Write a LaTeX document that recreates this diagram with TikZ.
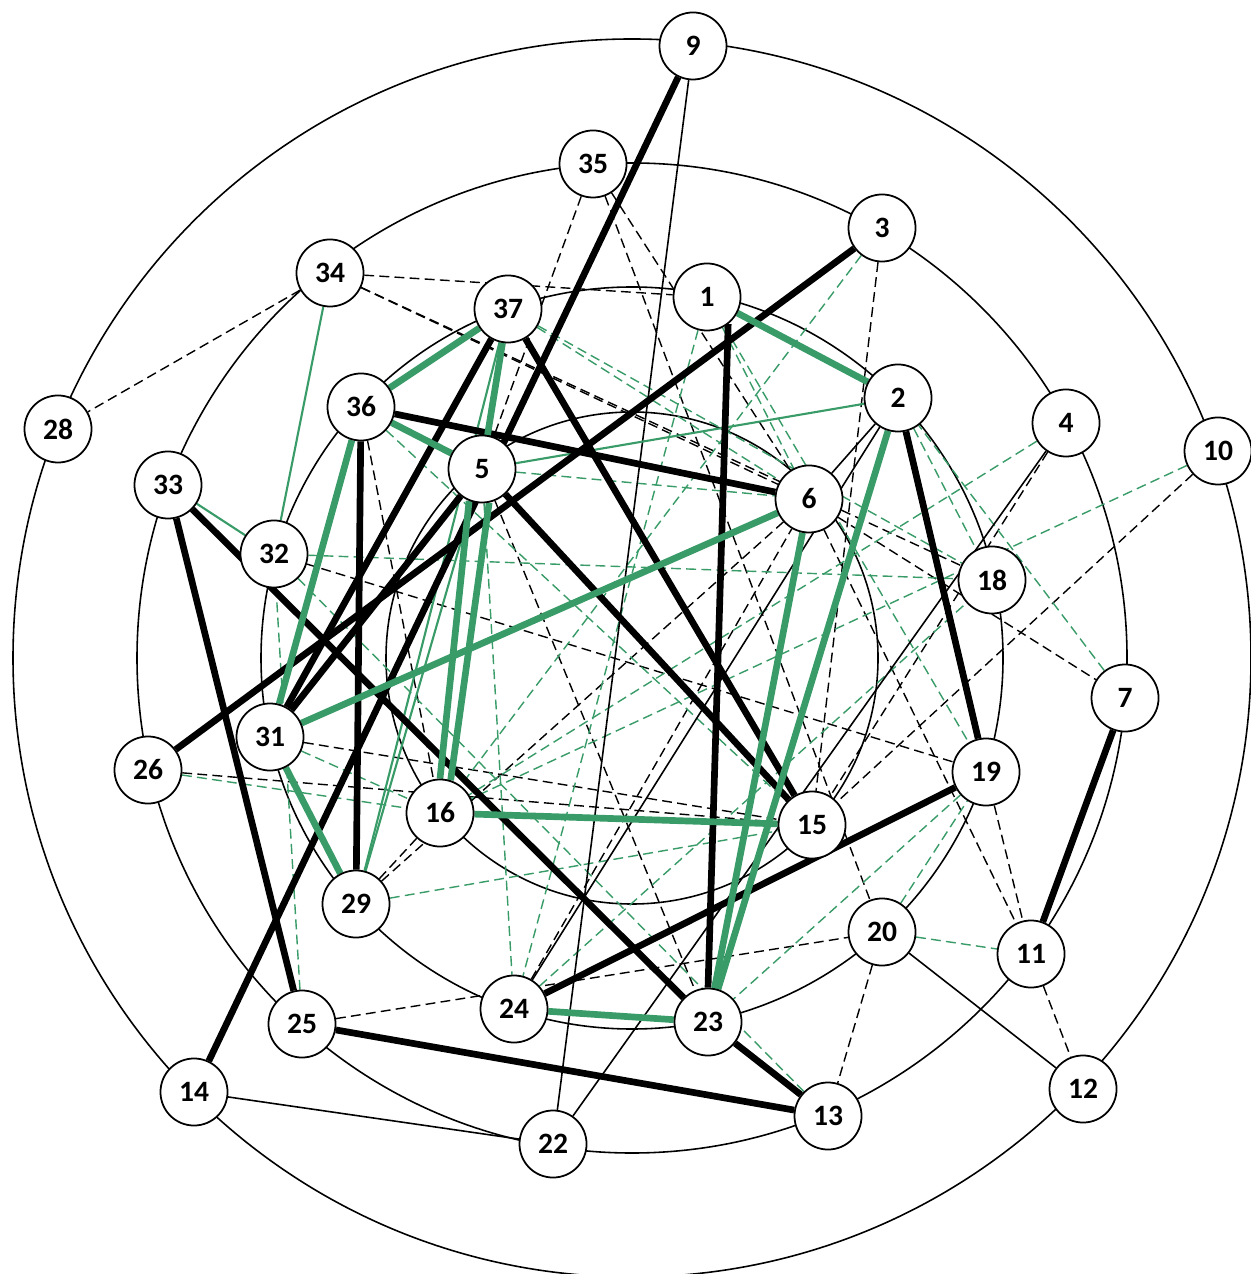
\documentclass[tikz,border=0pt]{standalone}
\usepackage{fontspec}
\setmainfont{Carlito}
\usetikzlibrary{backgrounds}
\definecolor{netgreen}{RGB}{56,155,104}

\begin{document}
\begin{tikzpicture}[x=0.01cm,y=-0.01cm,
  vtx/.style={circle,draw,fill=white,line width=0.5pt,minimum size=0.67cm,inner sep=0pt,
    font=\fontsize{8.4}{9}\selectfont\bfseries},
  ring/.style={line width=0.45pt},
  thin/.style={line width=0.45pt},
  heavy/.style={line width=1.9pt},
  gheavy/.style={line width=1.9pt,netgreen},
  glight/.style={line width=0.6pt,netgreen},
  dsh/.style={line width=0.4pt,dash pattern=on 2.8pt off 1.5pt},
  gdsh/.style={line width=0.4pt,netgreen,dash pattern=on 2.8pt off 1.5pt}]
\useasboundingbox (0,0) rectangle (1250,1274);
% vertices
\node[vtx] (n1)  at (707,297)  {1};
\node[vtx] (n2)  at (898,398)  {2};
\node[vtx] (n3)  at (882,228)  {3};
\node[vtx] (n4)  at (1066,423) {4};
\node[vtx] (n5)  at (482,469)  {5};
\node[vtx] (n6)  at (809,499)  {6};
\node[vtx] (n7)  at (1125,698) {7};
\node[vtx] (n9)  at (693,46)   {9};
\node[vtx] (n10) at (1218,451) {10};
\node[vtx] (n11) at (1031,954) {11};
\node[vtx] (n12) at (1083,1089) {12};
\node[vtx] (n13) at (828,1116) {13};
\node[vtx] (n14) at (194,1092) {14};
\node[vtx] (n15) at (812,825)  {15};
\node[vtx] (n16) at (440,813)  {16};
\node[vtx] (n18) at (992,580)  {18};
\node[vtx] (n19) at (986,772)  {19};
\node[vtx] (n20) at (882,932)  {20};
\node[vtx] (n22) at (553,1144) {22};
\node[vtx] (n23) at (708,1022) {23};
\node[vtx] (n24) at (514,1009) {24};
\node[vtx] (n25) at (302,1024) {25};
\node[vtx] (n26) at (148,770)  {26};
\node[vtx] (n28) at (58,429)   {28};
\node[vtx] (n29) at (356,904)  {29};
\node[vtx] (n31) at (270,737)  {31};
\node[vtx] (n32) at (274,554)  {32};
\node[vtx] (n33) at (168,485)  {33};
\node[vtx] (n34) at (330,273)  {34};
\node[vtx] (n35) at (593,164)  {35};
\node[vtx] (n36) at (361,407)  {36};
\node[vtx] (n37) at (508,309)  {37};

\begin{scope}[on background layer]
% rings
\foreach \r in {246,371,495,619}
  \draw[ring] (632,658) circle[radius=\r];
% dashed black
\foreach \a/\b in {34/28,34/1,34/6,34/18,35/5,35/6,35/20,3/15,36/16,5/23,6/7,4/15,10/15,
  26/15,31/15,29/16,29/6,25/20,20/13,11/12,19/11,6/11,32/19,24/6}
  \draw[dsh] (n\a) -- (n\b);
% dashed green
\foreach \a/\b in {26/16,31/16,29/15,25/32,20/11,32/18,32/13,36/15,5/6,5/24,37/18,4/16,
  10/16,3/16,7/2,1/6,1/19,1/24,37/6,19/23,24/18,2/18,20/19}
  \draw[gdsh] (n\a) -- (n\b);
% thin solid
\foreach \a/\b in {9/22,2/6,2/24,4/22,20/12,14/22}
  \draw[thin] (n\a) -- (n\b);
\foreach \a/\b in {2/5,34/32,33/32,5/29,37/29}
  \draw[glight] (n\a) -- (n\b);
% heavy
\foreach \a/\b in {9/14,5/31,36/6,5/15,37/15,37/31,3/26,36/29,2/19,19/24,33/25,33/23,
  7/11,25/13,23/13}
  \draw[heavy] (n\a) -- (n\b);
\draw[heavy] (n1.-52) -- (n23.north);
\foreach \a/\b in {1/2,37/36,36/5,36/31,31/29,6/31,16/15,6/23,2/23,24/23}
  \draw[gheavy] (n\a) -- (n\b);
\draw[gheavy] (n37) -- (n5);
\draw[gheavy] (n5.-112) -- (n16.north);
\draw[gheavy] (n5.-78) -- (n16.72);
\end{scope}
\end{tikzpicture}
\end{document}
